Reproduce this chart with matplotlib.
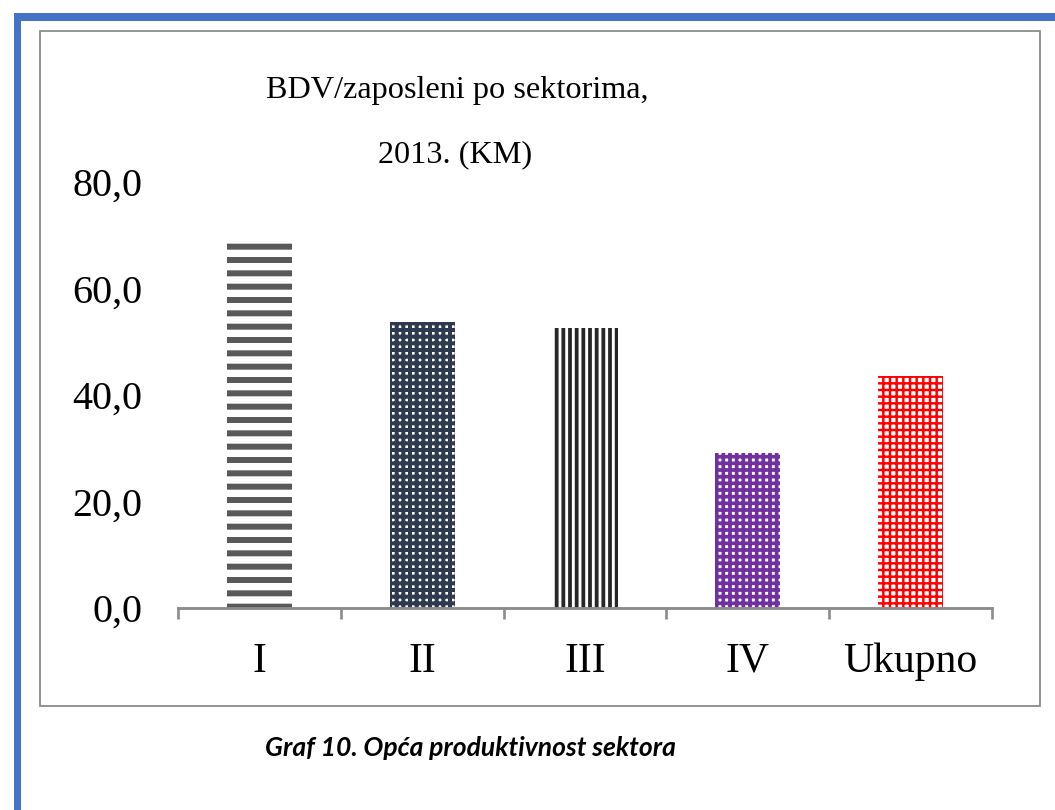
import matplotlib
matplotlib.use("Agg")
import matplotlib.pyplot as plt
from matplotlib.patches import Rectangle
import numpy as np

# ---- data ----
categories = ["I", "II", "III", "IV", "Ukupno"]
values = [69.0, 53.8, 52.5, 29.1, 43.5]
yticks = [0, 20, 40, 60, 80]
ytick_labels = ["0,0", "20,0", "40,0", "60,0", "80,0"]
title_line1 = "BDV/zaposleni po sektorima,"
title_line2 = "2013. (KM)"
caption = "Graf 10. Opća produktivnost sektora"

hatch_colors = ["#595959", "#2E3A50", "#262626", "#7030A0", "#FF0000"]
hatches = ["-", "++", "||", "++", "++"]
hatch_lws = [5.4, 3.6, 3.4, 3.3, 2.2]

DPI = 80
fig = plt.figure(figsize=(1055 / DPI, 810 / DPI), dpi=DPI)
fig.patch.set_facecolor("white")

W, H = 1055.0, 810.0
def fx(px):
    return px / W
def fy(py):
    return 1 - py / H

# blue page border (top and left)
fig.patches.append(Rectangle((fx(14), fy(20.5)), fx(1055) - fx(14), fy(13) - fy(20.5),
                             transform=fig.transFigure, facecolor="#4472C4",
                             edgecolor="none", zorder=0))
fig.patches.append(Rectangle((fx(14), 0), fx(20.5) - fx(14), fy(13),
                             transform=fig.transFigure, facecolor="#4472C4",
                             edgecolor="none", zorder=0))
# gray chart frame
fig.patches.append(Rectangle((fx(40), fy(706)), fx(1040) - fx(40), fy(31) - fy(706),
                             transform=fig.transFigure, facecolor="none",
                             edgecolor="#8A8A8A", linewidth=1.6, zorder=0))

ax = fig.add_axes([fx(178), fy(608), fx(992) - fx(178), fy(182) - fy(608)])
ax.set_facecolor("none")
ax.set_zorder(2)

x = np.arange(len(categories))
bars = ax.bar(x, values, width=0.4, color="white", linewidth=0)
for b, hc, h, lw in zip(bars, hatch_colors, hatches, hatch_lws):
    b.set_hatch(h)
    b.set_edgecolor(hc)
    b.set_linewidth(0)
    if hasattr(b, "set_hatch_linewidth"):
        b.set_hatch_linewidth(lw)

ax.set_xlim(-0.5, len(categories) - 0.5)
ax.set_ylim(0, 80)

for s in ["top", "right", "left"]:
    ax.spines[s].set_visible(False)
ax.spines["bottom"].set_color("#8C8C8C")
ax.spines["bottom"].set_linewidth(2.6)

serif = ["Liberation Serif", "DejaVu Serif"]

ax.set_xticks(np.arange(len(categories) + 1) - 0.5)
ax.set_xticklabels([])
ax.tick_params(axis="x", which="major", direction="out", length=10,
               width=2.4, color="#8C8C8C")
ax.set_xticks(x, minor=True)
ax.set_xticklabels(categories, minor=True, fontfamily=serif, fontsize=37.5)
ax.tick_params(axis="x", which="minor", length=0, pad=31)

ax.set_yticks(yticks)
ax.set_yticklabels(ytick_labels, fontfamily=serif, fontsize=36)
ax.tick_params(axis="y", length=0, pad=32)

fig.text(fx(457), fy(98), title_line1, ha="center", va="baseline",
         fontfamily=serif, fontsize=29)
fig.text(fx(455), fy(162), title_line2, ha="center", va="baseline",
         fontfamily=serif, fontsize=29)

fig.text(fx(470), fy(748), caption, ha="center", va="center",
         fontfamily=["Lato", "DejaVu Sans"], fontweight="bold", fontstyle="italic",
         fontsize=23.8)

fig.savefig("out.png", dpi=DPI, facecolor="white")
